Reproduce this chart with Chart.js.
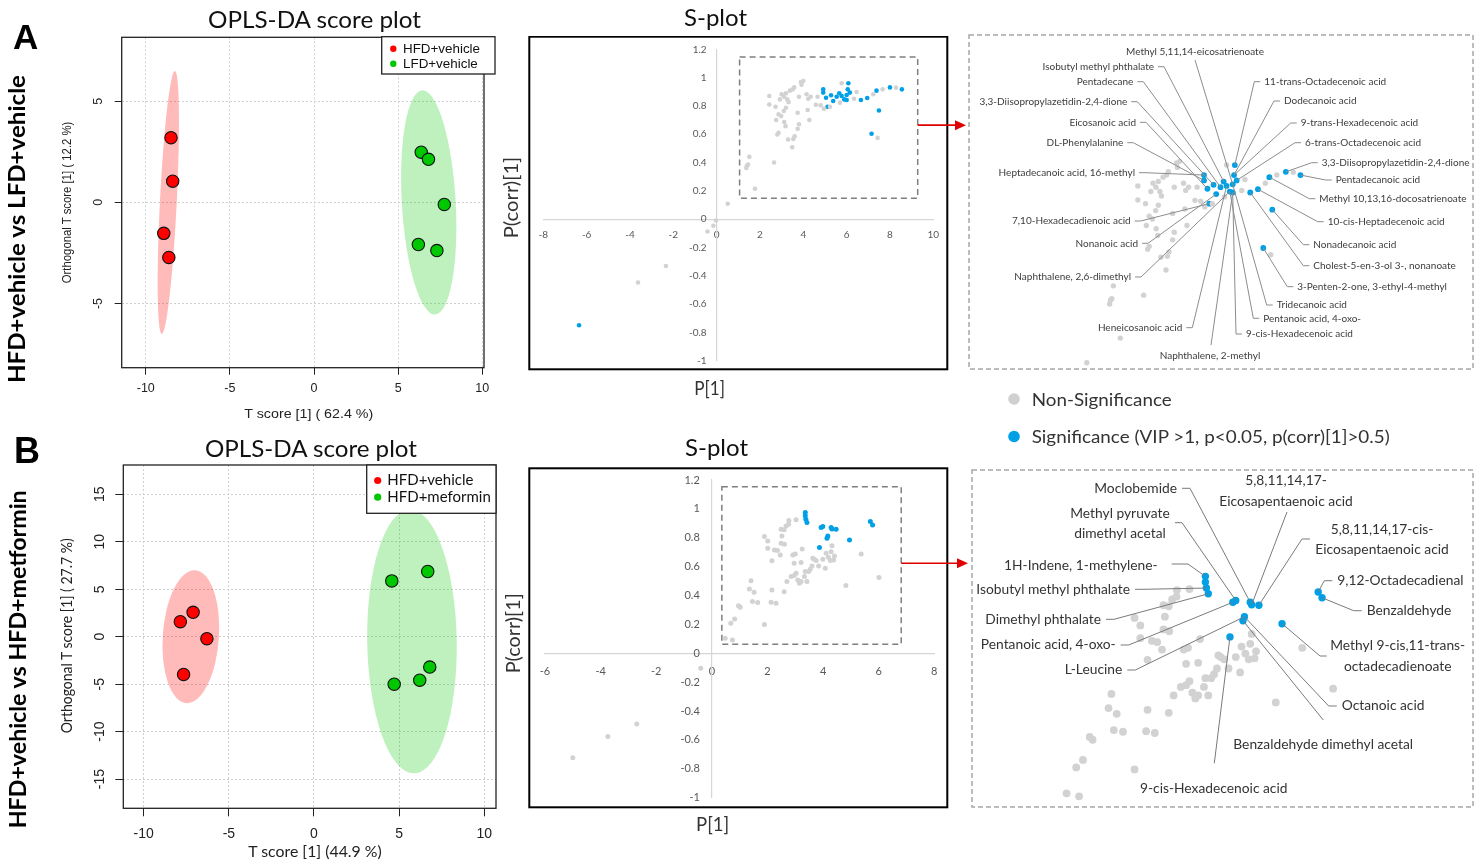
<!DOCTYPE html>
<html><head><meta charset="utf-8">
<script src="https://cdn.jsdelivr.net/npm/chart.js@4.4.1/dist/chart.umd.min.js"></script>
<style>
html,body{margin:0;padding:0;background:#fff;}
#page{position:relative;width:1484px;height:868px;overflow:hidden;background:#fff;}
canvas{position:absolute;}
#txt{position:absolute;left:0;top:0;pointer-events:none;}
</style></head><body>
<div id="page">
<canvas id="scoreA" width="460" height="400" style="left:50px;top:30px;width:460px;height:400px"></canvas>
<canvas id="scoreB" width="460" height="410" style="left:50px;top:455px;width:460px;height:410px"></canvas>
<canvas id="splotA" width="470" height="335" style="left:500px;top:36px;width:470px;height:335px"></canvas>
<canvas id="splotB" width="470" height="342" style="left:500px;top:467px;width:470px;height:342px"></canvas>
<canvas id="zoomA" width="506" height="336" style="left:968px;top:34px;width:506px;height:336px"></canvas>
<canvas id="zoomB" width="503" height="339" style="left:971px;top:469px;width:503px;height:339px"></canvas>
<svg id="txt" width="1484" height="868" xmlns="http://www.w3.org/2000/svg">
 <text x="13" y="48.5" font-family="Liberation Sans, Arial" font-weight="bold" font-size="35" fill="#000">A</text>
 <text x="14" y="463.3" font-family="Liberation Sans, Arial" font-weight="bold" font-size="36" fill="#000">B</text>
 <text transform="translate(25,383) rotate(-90)" font-family="Lato" font-weight="bold" font-size="22" textLength="308" lengthAdjust="spacingAndGlyphs" fill="#000">HFD+vehicle vs LFD+vehicle</text>
 <text transform="translate(26,828.3) rotate(-90)" font-family="Lato" font-weight="bold" font-size="22" textLength="338" lengthAdjust="spacingAndGlyphs" fill="#000">HFD+vehicle vs HFD+metformin</text>
 <text x="208" y="28.3" font-family="Lato" font-size="23" textLength="213" lengthAdjust="spacingAndGlyphs" fill="#111">OPLS-DA score plot</text>
 <text x="205" y="456.7" font-family="Lato" font-size="23" textLength="212" lengthAdjust="spacingAndGlyphs" fill="#111">OPLS-DA score plot</text>
 <text x="684" y="26" font-family="Lato" font-size="23" textLength="63" lengthAdjust="spacingAndGlyphs" fill="#111">S-plot</text>
 <text x="685" y="456" font-family="Lato" font-size="23" textLength="63" lengthAdjust="spacingAndGlyphs" fill="#111">S-plot</text>
 <text transform="translate(71,283.3) rotate(-90)" font-family="Liberation Sans Narrow, Liberation Sans" font-size="12.5" textLength="161.7" lengthAdjust="spacingAndGlyphs" fill="#222">Orthogonal T score [1] ( 12.2 %)</text>
 <text x="244.3" y="417.5" font-family="Liberation Sans" font-size="12.5" textLength="129" lengthAdjust="spacingAndGlyphs" fill="#222">T score [1] ( 62.4 %)</text>
 <text transform="translate(72,733.3) rotate(-90)" font-family="Lato" font-size="14.5" textLength="195" lengthAdjust="spacingAndGlyphs" fill="#222">Orthogonal T score [1] ( 27.7 %)</text>
 <text x="248.3" y="857" font-family="Lato" font-size="16" textLength="133.4" lengthAdjust="spacingAndGlyphs" fill="#222">T score [1] (44.9 %)</text>
 <text transform="translate(518,238.3) rotate(-90)" font-family="Lato" font-size="19" textLength="81.6" lengthAdjust="spacingAndGlyphs" fill="#333">P(corr)[1]</text>
 <text transform="translate(520,673.3) rotate(-90)" font-family="Lato" font-size="19" textLength="80" lengthAdjust="spacingAndGlyphs" fill="#333">P(corr)[1]</text>
 <text x="694.3" y="395" font-family="Lato" font-size="19" textLength="30.7" lengthAdjust="spacingAndGlyphs" fill="#333">P[1]</text>
 <text x="696" y="831" font-family="Lato" font-size="19" textLength="33.3" lengthAdjust="spacingAndGlyphs" fill="#333">P[1]</text>
 <circle cx="1014" cy="399" r="5.8" fill="#d0d0d0"/>
 <text x="1031.7" y="405.5" font-family="Lato" font-size="17.7" textLength="140" lengthAdjust="spacingAndGlyphs" fill="#333">Non-Significance</text>
 <circle cx="1014" cy="436.5" r="5.8" fill="#00a0e6"/>
 <text x="1031.7" y="443" font-family="Lato" font-size="17.7" textLength="358" lengthAdjust="spacingAndGlyphs" fill="#333">Significance (VIP &gt;1, p&lt;0.05, p(corr)[1]&gt;0.5)</text>
</svg>
</div>
<script>
// ---------------- DATA ----------------
// Panel A score plot (OPLS-DA)
const scoreA_groups = ['HFD+vehicle', 'LFD+vehicle'];
const scoreA_hfd_x = [-8.5, -8.4, -8.93, -8.63];
const scoreA_hfd_y = [3.2, 1.05, -1.53, -2.72];
const scoreA_lfd_x = [6.37, 6.8, 7.74, 6.2, 7.3];
const scoreA_lfd_y = [2.48, 2.13, -0.1, -2.08, -2.38];
// ellipse: [top x, top y, bottom x, bottom y, half width (x units)]
const scoreA_ellipse_hfd = [-8.27, 6.5, -9.05, -6.5, 0.5];
const scoreA_ellipse_lfd = [6.43, 5.54, 7.2, -5.54, 1.6];
const scoreA_xTicks = [-10, -5, 0, 5, 10];
const scoreA_yTicks = [-5, 0, 5];

// Panel B score plot
const scoreB_groups = ['HFD+vehicle', 'HFD+meformin'];
const scoreB_hfd_x = [-7.85, -7.1, -6.29, -7.66];
const scoreB_hfd_y = [1.58, 2.57, -0.21, -3.98];
const scoreB_met_x = [4.57, 6.68, 4.71, 6.21, 6.8];
const scoreB_met_y = [5.88, 6.87, -5.0, -4.58, -3.2];
const scoreB_ellipse_hfd = [-6.97, 7.0, -7.5, -7.0, 1.65];
const scoreB_ellipse_met = [5.63, 13.4, 5.88, -14.4, 2.63];
const scoreB_xTicks = [-10, -5, 0, 5, 10];
const scoreB_yTicks = [-15, -10, -5, 0, 5, 10, 15];

// Panel A S-plot
const splotA_gray_x = [0.51, -0.03, -0.15, -0.42, -2.34, -3.63, 1.77, 1.37, 1.45, 1.51, 1.40, 2.65,
  2.43, 2.43, 2.72, 2.86, 2.75, 2.98, 2.92, 3.0, 3.11, 3.2, 3.26, 3.38, 3.51, 3.58, 3.1, 3.2, 3.32,
  2.86, 2.80, 3.12, 3.18, 3.3, 3.49, 3.6, 3.54, 3.74, 3.8, 3.74, 3.8, 3.89, 4.0, 3.92, 4.15, 4.23,
  4.2, 4.28, 4.34, 4.66, 4.58, 4.8, 4.95, 5.23, 5.69, 5.77, 6.34, 6.46, 7.23, 7.66, 8.28, 7.43];
const splotA_gray_y = [0.109, -0.01, -0.047, -0.087, -0.331, -0.447, 0.215, 0.362, 0.385, 0.44, 0.378, 0.40,
  0.87, 0.81, 0.794, 0.74, 0.70, 0.728, 0.846, 0.882, 0.865, 0.889, 0.846, 0.908, 0.917, 0.931, 0.764, 0.787, 0.827,
  0.61, 0.598, 0.686, 0.657, 0.563, 0.508, 0.586, 0.567, 0.638, 0.671, 0.752, 0.865, 0.969, 0.976, 0.95, 0.882, 0.851,
  0.771, 0.70, 0.865, 0.865, 0.808, 0.804, 0.78, 0.794, 0.823, 0.96, 0.851, 0.898, 0.882, 0.917, 0.929, 0.574];
const splotA_blue_x = [-6.35, 4.92, 4.92, 5.05, 5.12, 5.28, 5.38, 5.54, 5.66, 5.77, 5.89, 6.0,
  6.08, 6.05, 6.15, 6.0, 6.66, 6.95, 7.38, 8.0, 8.55, 7.49, 7.15];
const splotA_blue_y = [-0.75, 0.917, 0.894, 0.858, 0.794, 0.875, 0.835, 0.865, 0.889, 0.87, 0.846, 0.877,
  0.96, 0.917, 0.894, 0.842, 0.842, 0.856, 0.908, 0.931, 0.917, 0.768, 0.603];
const splotA_xTicks = [-8, -6, -4, -2, 0, 2, 4, 6, 8, 10];
const splotA_yTicks = [-1, -0.8, -0.6, -0.4, -0.2, 0, 0.2, 0.4, 0.6, 0.8, 1, 1.2];
const splotA_box = [1.06, 0.148, 9.28, 1.145]; // x1,y1,x2,y2 of zoom region
const splotA_arrowY = 0.664;

// Panel B S-plot
const splotB_gray_x = [-5.0, -3.74, -2.7, -0.4, 0.48, 0.74, 0.68, 0.82, 0.96, 1.02, 1.89, 1.35, 1.41, 1.52,
  1.46, 1.65, 2.13, 2.31, 2.16, 2.6, 2.16, 1.89, 2.01, 2.01, 2.25, 2.36, 2.46, 2.49, 2.61, 2.52, 2.49, 2.6,
  2.67, 2.76, 2.77, 3.03, 2.91, 3.0, 2.7, 2.85, 2.96, 3.03, 3.09, 3.15, 3.21, 2.96, 3.25, 3.21, 3.36, 3.48,
  3.33, 3.42, 3.54, 3.6, 3.68, 3.63, 3.75, 3.84, 3.99, 4.08, 4.11, 4.19, 4.29, 4.32, 4.41, 4.38, 4.26, 4.82,
  5.37, 6.01];
const splotB_gray_y = [-0.723, -0.577, -0.49, -0.104, 0.104, 0.092, 0.208, 0.238, 0.33, 0.319, 0.2, 0.446, 0.503, 0.423,
  0.358, 0.351, 0.353, 0.346, 0.439, 0.427, 0.64, 0.808, 0.778, 0.727, 0.716, 0.711, 0.681, 0.762, 0.755, 0.813, 0.859, 0.855,
  0.882, 0.894, 0.92, 0.924, 0.681, 0.688, 0.497, 0.531, 0.538, 0.554, 0.508, 0.485, 0.497, 0.624, 0.723, 0.628, 0.566, 0.566,
  0.531, 0.497, 0.582, 0.605, 0.651, 0.658, 0.642, 0.605, 0.651, 0.589, 0.693, 0.665, 0.704, 0.744, 0.674, 0.646, 0.642, 0.469,
  0.688, 0.524];
const splotB_blue_x = [3.36, 3.36, 3.38, 3.42, 3.93, 3.99, 4.29, 4.47, 4.17, 4.14, 3.87, 4.95, 5.7, 5.78, 4.32];
const splotB_blue_y = [0.975, 0.952, 0.928, 0.905, 0.871, 0.878, 0.871, 0.859, 0.813, 0.797, 0.732, 0.785, 0.912, 0.889, 0.861];
const splotB_xTicks = [-6, -4, -2, 0, 2, 4, 6, 8];
const splotB_yTicks = [-1, -0.8, -0.6, -0.4, -0.2, 0, 0.2, 0.4, 0.6, 0.8, 1, 1.2];
const splotB_box = [0.36, 0.062, 6.81, 1.154];
const splotB_arrowY = 0.623;

// Significant metabolite names (callouts) and the significant point each refers to
const zoomA_names = ['Methyl 5,11,14-eicosatrienoate', 'Isobutyl methyl phthalate', 'Pentadecane',
  '3,3-Diisopropylazetidin-2,4-dione', 'Eicosanoic acid', 'DL-Phenylalanine', 'Heptadecanoic acid, 16-methyl',
  '7,10-Hexadecadienoic acid', 'Nonanoic acid', 'Naphthalene, 2,6-dimethyl', 'Heneicosanoic acid',
  'Naphthalene, 2-methyl', '9-cis-Hexadecenoic acid', 'Pentanoic acid, 4-oxo-', 'Tridecanoic acid',
  '3-Penten-2-one, 3-ethyl-4-methyl', 'Cholest-5-en-3-ol 3-, nonanoate', 'Nonadecanoic acid',
  '10-cis-Heptadecenoic acid', 'Methyl 10,13,16-docosatrienoate', 'Pentadecanoic acid',
  '3,3-Diisopropylazetidin-2,4-dione', '6-trans-Octadecenoic acid', '9-trans-Hexadecenoic acid',
  'Dodecanoic acid', '11-trans-Octadecenoic acid'];
const zoomA_targets = [11, 8, 7, 5, 3, 2, 1, 4, 6, 10, 9, 15, 15, 10, 11, 22, 16, 21, 17, 18, 20, 19, 14, 13, 13, 12];

const zoomB_names = [['Moclobemide'], ['Methyl pyruvate', 'dimethyl acetal'], ['5,8,11,14,17-', 'Eicosapentaenoic acid'],
  ['5,8,11,14,17-cis-', 'Eicosapentaenoic acid'], ['9,12-Octadecadienal'], ['Benzaldehyde'],
  ['Methyl 9-cis,11-trans-', 'octadecadienoate'], ['Octanoic acid'], ['Benzaldehyde dimethyl acetal'],
  ['9-cis-Hexadecenoic acid'], ['L-Leucine'], ['Pentanoic acid, 4-oxo-'], ['Dimethyl phthalate'],
  ['Isobutyl methyl phthalate'], ['1H-Indene, 1-methylene-']];
const zoomB_targets = [6, 5, 14, 7, 12, 13, 11, 8, 9, 10, 8, 4, 3, 2, 0];

// ---------------- LAYOUT (pixel placement of callout texts, relative to panel) ----------------
// [textX, textY, align, leaderStartX?, leaderStartY?, elbowX?, elbowY?]
const zoomA_layout = [
  [227, 17.7, 'center', 227, 26], [186, 32.7, 'right'], [165.3, 47.7, 'right'], [159.3, 67.7, 'right'],
  [168, 88.3, 'right'], [155.3, 108.7, 'right'], [167, 138.7, 'right'], [162.7, 187, 'right'],
  [170, 209.3, 'right'], [163, 243, 'right'], [214.3, 293.7, 'right'], [242, 322, 'center', 243, 311],
  [278, 300, 'left'], [295.3, 284.3, 'left'], [308.7, 271, 'left'], [329.3, 252.7, 'left'],
  [345.3, 231.7, 'left'], [345.3, 210.7, 'left'], [359.7, 187.7, 'left'], [351.3, 164.7, 'left'],
  [367.7, 146, 'left'], [353.7, 128.7, 'left'], [337, 108.7, 'left'], [332.7, 89, 'left'],
  [316, 67, 'left'], [296.3, 47.7, 'left']];
const zoomB_layout = [
  [206, 19.3, 'right'], [149, 44.3, 'center', 204, 53.7, 211, 53.7], [315, 11.7, 'center', 316, 43],
  [411, 60.3, 'center', 339, 70, 331, 70], [366.3, 111.7, 'left'], [395.7, 141.7, 'left'],
  [426.7, 177, 'center', 355.7, 187, 349, 187], [370.7, 237, 'left'], [262.3, 276, 'left', 352.3, 251],
  [242.7, 319.3, 'center', 243.3, 294.3], [151.3, 201, 'right'], [144.7, 176, 'right'],
  [130, 150.3, 'right'], [159, 120.3, 'right'], [186.7, 97, 'right', 200.7, 95, 217, 95]];

// ---------------- HELPERS ----------------
const zip = (xs, ys) => xs.map((x, i) => ({x: x, y: ys[i]}));
Chart.defaults.font.family = 'Lato';
const GRAY = '#d2d2d2', BLUE = '#00a0e6';
const fmt1 = v => String(Math.round(v * 10) / 10);

function ellipsePlugin(list) {
  return {
    id: 'ellipses',
    beforeDatasetsDraw(chart) {
      const xs = chart.scales.x, ys = chart.scales.y, ctx = chart.ctx, ca = chart.chartArea;
      ctx.save();
      ctx.beginPath(); ctx.rect(ca.left, ca.top, ca.right - ca.left, ca.bottom - ca.top); ctx.clip();
      list.forEach(([e, color]) => {
        const tx = xs.getPixelForValue(e[0]), ty = ys.getPixelForValue(e[1]);
        const bx = xs.getPixelForValue(e[2]), by = ys.getPixelForValue(e[3]);
        const hw = Math.abs(xs.getPixelForValue(e[4]) - xs.getPixelForValue(0));
        const cx = (tx + bx) / 2, cy = (ty + by) / 2;
        const a = Math.hypot(bx - tx, by - ty) / 2;
        const rot = Math.atan2(by - ty, bx - tx);
        ctx.beginPath(); ctx.ellipse(cx, cy, a, hw, rot, 0, Math.PI * 2);
        ctx.fillStyle = color; ctx.fill();
      });
      ctx.restore();
    }
  };
}

function scoreDecor(o) {
  return {
    id: 'scoreDecor',
    afterDraw(chart) {
      const ctx = chart.ctx, ca = chart.chartArea, ys = chart.scales.y;
      ctx.save();
      ctx.strokeStyle = '#222'; ctx.lineWidth = 1.3; ctx.setLineDash([]);
      ctx.strokeRect(ca.left, ca.top, ca.right - ca.left, ca.bottom - ca.top);
      // rotated y tick labels
      ctx.fillStyle = '#222'; ctx.font = o.tickFont; ctx.textAlign = 'center'; ctx.textBaseline = 'middle';
      o.yTicks.forEach(v => {
        ctx.save(); ctx.translate(ca.left - o.yLabelOff, ys.getPixelForValue(v)); ctx.rotate(-Math.PI / 2);
        ctx.fillText(String(v), 0, 0); ctx.restore();
      });
      // legend
      const L = o.legend;
      ctx.fillStyle = '#fff'; ctx.fillRect(L.x, L.y, L.w, L.h);
      ctx.strokeStyle = '#222'; ctx.lineWidth = 1.3; ctx.strokeRect(L.x, L.y, L.w, L.h);
      ctx.font = L.font; ctx.textAlign = 'left'; ctx.textBaseline = 'alphabetic';
      chart.data.datasets.forEach((ds, i) => {
        ctx.beginPath(); ctx.arc(L.dotX, L.rows[i] - L.dotDy, L.r, 0, Math.PI * 2);
        ctx.fillStyle = ds.backgroundColor; ctx.fill();
        ctx.fillStyle = '#111'; ctx.fillText(ds.label, L.textX, L.rows[i]);
      });
      ctx.restore();
    }
  };
}

function makeScore(id, o) {
  return new Chart(document.getElementById(id), {
    type: 'scatter',
    data: {datasets: [
      {label: o.groups[0], data: zip(o.g1x, o.g1y), backgroundColor: '#ff0000', borderColor: '#111', borderWidth: 1.1, pointRadius: 6.2},
      {label: o.groups[1], data: zip(o.g2x, o.g2y), backgroundColor: '#00c800', borderColor: '#111', borderWidth: 1.1, pointRadius: 6.2}
    ]},
    options: {
      responsive: false, animation: false, events: [],
      layout: {padding: {left: 0, top: o.padTop, right: o.padRight, bottom: 0}},
      plugins: {legend: {display: false}, tooltip: {enabled: false}},
      scales: {
        x: {type: 'linear', min: o.xMin, max: o.xMax,
          afterBuildTicks: ax => { ax.ticks = o.xTicks.map(v => ({value: v})); },
          afterFit: s => { s.height = o.xAxisH; },
          grid: {color: '#d0d0d0', lineWidth: 1, drawTicks: true, tickLength: o.tl, tickColor: '#222', tickWidth: 1, tickBorderDash: []},
          border: {display: false, dash: [2, 2]},
          ticks: {font: {family: o.tickFamily, size: o.tickSize}, color: '#222', padding: o.xPad, maxRotation: 0, autoSkip: false,
            callback: v => String(v)}},
        y: {type: 'linear', min: o.yMin, max: o.yMax,
          afterBuildTicks: ax => { ax.ticks = o.yTicks.map(v => ({value: v})); },
          afterFit: s => { s.width = o.yAxisW; },
          grid: {color: '#d0d0d0', lineWidth: 1, drawTicks: true, tickLength: o.tl, tickColor: '#222', tickWidth: 1, tickBorderDash: []},
          border: {display: false, dash: [2, 2]},
          ticks: {display: false}}
      }
    },
    plugins: [ellipsePlugin(o.ellipses), scoreDecor(o)]
  });
}

function splotDecor(o) {
  return {
    id: 'splotDecor',
    beforeDatasetsDraw(chart) {
      const ctx = chart.ctx, xs = chart.scales.x, ys = chart.scales.y;
      const x1 = xs.getPixelForValue(o.box[0]), y1 = ys.getPixelForValue(o.box[1]);
      const x2 = xs.getPixelForValue(o.box[2]), y2 = ys.getPixelForValue(o.box[3]);
      ctx.save();
      ctx.strokeStyle = '#7f7f7f'; ctx.lineWidth = 1.5; ctx.setLineDash([6, 4]);
      ctx.strokeRect(x1, y2, x2 - x1, y1 - y2);
      ctx.restore();
    },
    afterDraw(chart) {
      const ctx = chart.ctx, xs = chart.scales.x, ys = chart.scales.y;
      ctx.save();
      // y tick labels, placed left of the y axis line (which crosses at x = 0)
      ctx.font = o.fs + 'px Lato'; ctx.fillStyle = '#595959'; ctx.textAlign = 'right'; ctx.textBaseline = 'middle';
      const x0 = xs.getPixelForValue(0);
      o.yTicks.forEach(v => ctx.fillText(fmt1(v), x0 - o.yPad, ys.getPixelForValue(v)));
      ctx.strokeStyle = '#000'; ctx.lineWidth = 2; ctx.setLineDash([]);
      ctx.strokeRect(o.frame[0], o.frame[1], o.frame[2] - o.frame[0], o.frame[3] - o.frame[1]);
      const ax = xs.getPixelForValue(o.box[2]), ay = ys.getPixelForValue(o.arrowY);
      ctx.strokeStyle = '#e00000'; ctx.fillStyle = '#e00000'; ctx.lineWidth = 1.6;
      ctx.beginPath(); ctx.moveTo(ax, ay); ctx.lineTo(o.arrowTip - 9, ay); ctx.stroke();
      ctx.beginPath(); ctx.moveTo(o.arrowTip, ay); ctx.lineTo(o.arrowTip - 11, ay - 5); ctx.lineTo(o.arrowTip - 11, ay + 5); ctx.closePath(); ctx.fill();
      ctx.restore();
    }
  };
}

function makeSplot(id, o) {
  return new Chart(document.getElementById(id), {
    type: 'scatter',
    data: {datasets: [
      {label: 'Non-Significance', data: zip(o.gx, o.gy), backgroundColor: GRAY, borderWidth: 0, pointRadius: o.r},
      {label: 'Significance', data: zip(o.bx, o.by), backgroundColor: BLUE, borderWidth: 0, pointRadius: o.r}
    ]},
    options: {
      responsive: false, animation: false, events: [],
      layout: {padding: o.pad},
      plugins: {legend: {display: false}, tooltip: {enabled: false}},
      scales: {
        x: {type: 'linear', position: {y: 0}, min: o.xTicks[0], max: o.xTicks[o.xTicks.length - 1],
          afterBuildTicks: ax => { ax.ticks = o.xTicks.map(v => ({value: v})); },
          grid: {display: false, drawTicks: false}, border: {display: true, color: '#d6d6d6', width: 1.2},
          ticks: {font: {size: o.fs}, color: '#595959', padding: o.xPad, maxRotation: 0, autoSkip: false, callback: fmt1}},
        y: {type: 'linear', position: {x: 0}, min: o.yTicks[0], max: o.yTicks[o.yTicks.length - 1],
          afterBuildTicks: ax => { ax.ticks = o.yTicks.map(v => ({value: v})); },
          grid: {display: false, drawTicks: false}, border: {display: true, color: '#d6d6d6', width: 1.2},
          ticks: {display: false}}
      }
    },
    plugins: [splotDecor(o)]
  });
}

function calloutPlugin(o) {
  return {
    id: 'callouts',
    afterDraw(chart) {
      const ctx = chart.ctx, w = chart.width, h = chart.height;
      const pts = chart.getDatasetMeta(1).data;
      ctx.save();
      ctx.strokeStyle = '#a6a6a6'; ctx.lineWidth = 1.5; ctx.setLineDash([5, 3]);
      ctx.strokeRect(1, 1, w - 2, h - 2);
      ctx.setLineDash([]);
      ctx.font = o.font; ctx.textBaseline = 'middle';
      o.names.forEach((nm, i) => {
        const L = o.layout[i];
        const lines = Array.isArray(nm) ? nm : [nm];
        const [tx, ty, align] = L;
        ctx.fillStyle = o.color; ctx.textAlign = align;
        lines.forEach((s, k) => ctx.fillText(s, tx, ty + k * o.lineH));
        let sx, sy, ex, ey;
        if (L.length > 3) { sx = L[3]; sy = L[4]; if (L.length > 5) { ex = L[5]; ey = L[6]; } }
        else if (align === 'right') { sx = tx + o.gap; sy = ty; ex = tx + o.gap + o.elbow; ey = ty; }
        else { sx = tx - o.gap; sy = ty; ex = tx - o.gap - o.elbow; ey = ty; }
        const p = pts[o.targets[i]];
        ctx.strokeStyle = o.lineColor; ctx.lineWidth = 1;
        ctx.beginPath(); ctx.moveTo(sx, sy);
        if (ex !== undefined) ctx.lineTo(ex, ey);
        ctx.lineTo(p.x, p.y); ctx.stroke();
      });
      ctx.restore();
    }
  };
}

function makeZoom(id, o) {
  return new Chart(document.getElementById(id), {
    type: 'scatter',
    data: {datasets: [
      {label: 'Non-Significance', data: zip(o.gx, o.gy), backgroundColor: GRAY, borderWidth: 0, pointRadius: o.rg},
      {label: 'Significance', data: zip(o.bx, o.by), backgroundColor: BLUE, borderWidth: 0, pointRadius: o.rb}
    ]},
    options: {
      responsive: false, animation: false, events: [],
      layout: {padding: 0},
      plugins: {legend: {display: false}, tooltip: {enabled: false}},
      scales: {
        x: {type: 'linear', display: false, min: o.xMin, max: o.xMax},
        y: {type: 'linear', display: false, min: o.yMin, max: o.yMax}
      }
    },
    plugins: [calloutPlugin(o)]
  });
}

// ---------------- BUILD ----------------
makeScore('scoreA', {
  groups: scoreA_groups, g1x: scoreA_hfd_x, g1y: scoreA_hfd_y, g2x: scoreA_lfd_x, g2y: scoreA_lfd_y,
  ellipses: [[scoreA_ellipse_hfd, 'rgba(255,0,0,0.27)'], [scoreA_ellipse_lfd, 'rgba(20,205,20,0.28)']],
  xTicks: scoreA_xTicks, yTicks: scoreA_yTicks, xMin: -11.43, xMax: 10.1, yMin: -8.17, yMax: 8.16,
  padTop: 6.7, padRight: 26, yAxisW: 71.7, xAxisH: 62.3, tl: 7, xPad: 6,
  tickFamily: 'Liberation Sans', tickSize: 12.5, tickFont: '12.5px "Liberation Sans"', yLabelOff: 23,
  legend: {x: 331.7, y: 6.7, w: 113.3, h: 37.3, dotX: 343.3, dotDy: 4, r: 3.2, textX: 353, rows: [22.7, 37.7],
    font: '13.4px "Liberation Sans"'}
});
makeScore('scoreB', {
  groups: scoreB_groups, g1x: scoreB_hfd_x, g1y: scoreB_hfd_y, g2x: scoreB_met_x, g2y: scoreB_met_y,
  ellipses: [[scoreB_ellipse_hfd, 'rgba(255,0,0,0.27)'], [scoreB_ellipse_met, 'rgba(20,205,20,0.28)']],
  xTicks: scoreB_xTicks, yTicks: scoreB_yTicks, xMin: -11.2, xMax: 10.69, yMin: -18.08, yMax: 18.09,
  padTop: 10, padRight: 14, yAxisW: 73.3, xAxisH: 56.7, tl: 8, xPad: 9.5,
  tickFamily: 'Liberation Sans', tickSize: 14, tickFont: '14px "Liberation Sans"', yLabelOff: 22.8,
  legend: {x: 316.7, y: 10, w: 129.3, h: 48.3, dotX: 327.7, dotDy: 4.5, r: 3.6, textX: 337.3, rows: [30, 46.7],
    font: '15px Lato'}
});
makeSplot('splotA', {
  gx: splotA_gray_x, gy: splotA_gray_y, bx: splotA_blue_x, by: splotA_blue_y,
  xTicks: splotA_xTicks, yTicks: splotA_yTicks, box: splotA_box, arrowY: splotA_arrowY,
  pad: {left: 43.3, right: 36.7, top: 13.3, bottom: 10.3}, r: 2.3, fs: 10, xPad: 10, yPad: 10,
  frame: [29.3, 0.7, 447.3, 333.3], arrowTip: 466
});
makeSplot('splotB', {
  gx: splotB_gray_x, gy: splotB_gray_y, bx: splotB_blue_x, by: splotB_blue_y,
  xTicks: splotB_xTicks, yTicks: splotB_yTicks, box: splotB_box, arrowY: splotB_arrowY,
  pad: {left: 45, right: 35.7, top: 13, bottom: 11.3}, r: 2.5, fs: 11, xPad: 11.5, yPad: 12,
  frame: [29.3, 1.3, 447.3, 340.3], arrowTip: 468
});
makeZoom('zoomA', {
  gx: splotA_gray_x, gy: splotA_gray_y, bx: splotA_blue_x, by: splotA_blue_y,
  xMin: -3.81, xMax: 14.93, yMin: 0.095, yMax: 1.507, rg: 2.7, rb: 2.9,
  names: zoomA_names, targets: zoomA_targets, layout: zoomA_layout,
  font: '10px Lato', color: '#3c3c3c', lineColor: '#8c8c8c', lineH: 12, gap: 4, elbow: 6
});
makeZoom('zoomB', {
  gx: splotB_gray_x, gy: splotB_gray_y, bx: splotB_blue_x, by: splotB_blue_y,
  xMin: -1.42, xMax: 8.85, yMin: 0.061, yMax: 1.39, rg: 3.9, rb: 3.7,
  names: zoomB_names, targets: zoomB_targets, layout: zoomB_layout,
  font: '13.8px Lato', color: '#333', lineColor: '#7a7a7a', lineH: 20.5, gap: 5, elbow: 8
});
</script>
</body></html>
